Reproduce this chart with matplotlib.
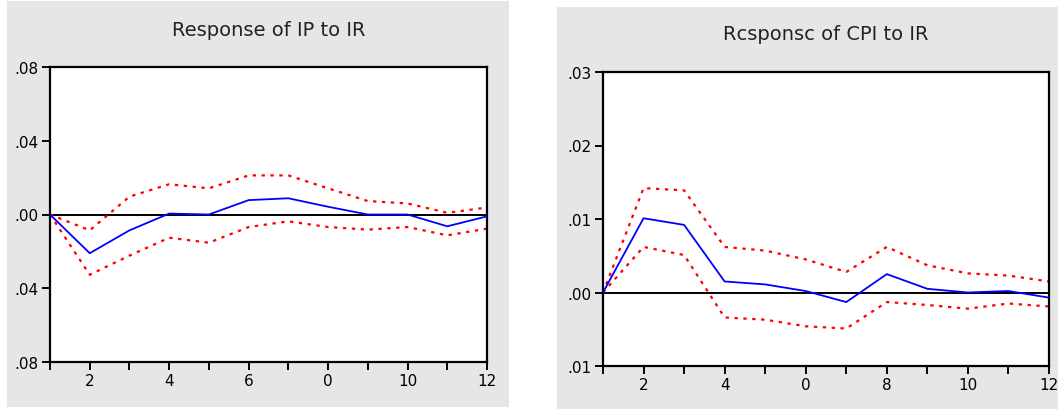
import matplotlib.pyplot as plt
from matplotlib.patches import Rectangle

periods = list(range(1, 13))

# Response of IP to IR
ip_resp = [0.0, -0.021, -0.0086, 0.0005, 0.0, 0.0078, 0.0088, 0.0042, 0.0, 0.0, -0.0064, -0.001]
ip_upper = [0.0, -0.0086, 0.0097, 0.0164, 0.0142, 0.0212, 0.0212, 0.0142, 0.0073, 0.006, 0.0009, 0.0038]
ip_lower = [0.0, -0.0327, -0.0223, -0.0126, -0.0153, -0.0068, -0.0037, -0.0068, -0.0082, -0.0068, -0.0113, -0.0077]
ip_yticks = [0.08, 0.04, 0.0, -0.04, -0.08]
ip_ylabels = ['.08', '.04', '.00', '.04', '.08']
ip_xlabels = ['', '2', '', '4', '', '6', '', '0', '', '10', '', '12']

# Response of CPI to IR
cpi_resp = [0.0, 0.0101, 0.0092, 0.0015, 0.0011, 0.0002, -0.0013, 0.0025, 0.0005, 0.0, 0.0002, -0.0007]
cpi_upper = [0.0, 0.0142, 0.0139, 0.0062, 0.0057, 0.0045, 0.0028, 0.0062, 0.0037, 0.0026, 0.0023, 0.0015]
cpi_lower = [0.0, 0.0062, 0.0051, -0.0034, -0.0037, -0.0046, -0.0049, -0.0013, -0.0017, -0.0022, -0.0015, -0.0019]
cpi_yticks = [0.03, 0.02, 0.01, 0.0, -0.01]
cpi_ylabels = ['.03', '.02', '.01', '.00', '.01']
cpi_xlabels = ['', '2', '', '4', '', '0', '', '8', '', '10', '', '12']

plt.rcParams['font.family'] = ['DejaVu Sans']

fig = plt.figure(figsize=(10.58, 4.10), dpi=100)
fig.patch.set_facecolor('white')

# gray panel backgrounds
fig.patches.append(Rectangle((7/1058, 2/410), 502/1058, 406/410, transform=fig.transFigure,
                             facecolor='#e6e6e6', edgecolor='none', zorder=-5))
fig.patches.append(Rectangle((557/1058, 0), 501/1058, 402/410, transform=fig.transFigure,
                             facecolor='#e6e6e6', edgecolor='none', zorder=-5))


def panel(rect, title, resp, upper, lower, ylim, yticks, ylabels, xlabels, title_y):
    ax = fig.add_axes(rect)
    ax.set_zorder(2)
    ax.set_facecolor('white')
    ax.axhline(0, color='black', lw=1.4, zorder=1)
    ax.plot(periods, upper, color='red', lw=1.6, ls=(0, (1.5, 2.5)), zorder=2)
    ax.plot(periods, lower, color='red', lw=1.6, ls=(0, (1.5, 2.5)), zorder=2)
    ax.plot(periods, resp, color='blue', lw=1.3, zorder=3)
    ax.set_xlim(1, 12)
    ax.set_ylim(*ylim)
    ax.set_yticks(yticks)
    ax.set_yticklabels(ylabels)
    ax.set_xticks(periods)
    ax.set_xticklabels(xlabels)
    ax.tick_params(direction='out', length=6, width=1.4, labelsize=11, colors='black', pad=2)
    for s in ax.spines.values():
        s.set_linewidth(1.6)
    fig.text(rect[0] + rect[2] / 2, title_y, title, ha='center', va='center', fontsize=14,
             color='#222222')
    return ax


panel([50/1058, 1 - 363/410, 437/1058, 295/410], 'Response of IP to IR',
      ip_resp, ip_upper, ip_lower, (-0.08, 0.08), ip_yticks, ip_ylabels, ip_xlabels, 1 - 30/410)
panel([603/1058, 1 - 367/410, 446/1058, 294/410], 'Rcsponsc of CPI to IR',
      cpi_resp, cpi_upper, cpi_lower, (-0.01, 0.03), cpi_yticks, cpi_ylabels, cpi_xlabels, 1 - 35/410)

fig.savefig('out.png', dpi=100)
